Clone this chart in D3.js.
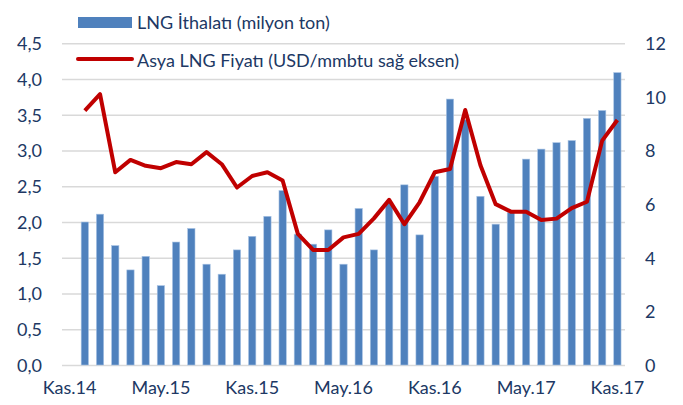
<!DOCTYPE html>
<html>
<head>
<meta charset="utf-8">
<script src="https://cdn.jsdelivr.net/npm/d3@7"></script>
<style>
  body { margin: 0; background: #fff; }
  svg text { font-family: Lato, 'Liberation Sans', sans-serif; fill: #203864; }
</style>
</head>
<body>
<svg id="chart" width="683" height="405"></svg>
<script>
// months Kas.14 .. Kas.17 (first month has no data in the source)
const months = [
  'Kas.14', 'Ara.14', 'Oca.15', 'Şub.15', 'Mar.15', 'Nis.15', 'May.15', 'Haz.15', 'Tem.15', 'Ağu.15', 'Eyl.15', 'Eki.15',
  'Kas.15', 'Ara.15', 'Oca.16', 'Şub.16', 'Mar.16', 'Nis.16', 'May.16', 'Haz.16', 'Tem.16', 'Ağu.16', 'Eyl.16', 'Eki.16',
  'Kas.16', 'Ara.16', 'Oca.17', 'Şub.17', 'Mar.17', 'Nis.17', 'May.17', 'Haz.17', 'Tem.17', 'Ağu.17', 'Eyl.17', 'Eki.17',
  'Kas.17',
];

// LNG imports, million tonnes (left axis)
const lngImports = [
  null, 2.00, 2.11, 1.67, 1.33, 1.52, 1.11, 1.72, 1.91, 1.41, 1.27, 1.61,
  1.80, 2.08, 2.44, 1.83, 1.69, 1.89, 1.41, 2.19, 1.61, 2.27, 2.52, 1.82,
  2.64, 3.72, 3.43, 2.36, 1.97, 2.13, 2.88, 3.02, 3.11, 3.14, 3.45, 3.56,
  4.09,
];

// Asia LNG price, USD/mmbtu (right axis)
const asiaPrice = [
  null, 9.49, 10.1, 7.19, 7.65, 7.43, 7.34, 7.57, 7.49, 7.94, 7.49, 6.62,
  7.05, 7.19, 6.88, 4.89, 4.29, 4.29, 4.76, 4.89, 5.47, 6.16, 5.25, 6.07,
  7.19, 7.31, 9.51, 7.45, 6.00, 5.72, 5.72, 5.41, 5.46, 5.85, 6.09, 8.37,
  9.14,
];

const xLabels = ['Kas.14', 'May.15', 'Kas.15', 'May.16', 'Kas.16', 'May.17', 'Kas.17'];
const leftTicks = [0, 0.5, 1, 1.5, 2, 2.5, 3, 3.5, 4, 4.5];
const rightTicks = [0, 2, 4, 6, 8, 10, 12];

const legendItems = ['LNG İthalatı (milyon ton)', 'Asya LNG Fiyatı (USD/mmbtu sağ eksen)'];

const plot = { left: 62, right: 625, top: 43.3, bottom: 365 };
const fontSize = 18;

const svg = d3.select('#chart');

const x = d3.scaleBand()
  .domain(months)
  .range([plot.left, plot.right])
  .paddingInner(0.52)
  .paddingOuter(0.26);

const yLeft = d3.scaleLinear()
  .domain([0, 4.5])
  .range([plot.bottom, plot.top]);

const yRight = d3.scaleLinear()
  .domain([0, 12])
  .range([plot.bottom, plot.top]);

const center = m => x(m) + x.bandwidth() / 2;

// gridlines + left labels
const leftAxis = d3.axisLeft(yLeft)
  .tickValues(leftTicks)
  .tickSize(-(plot.right - plot.left))
  .tickFormat(d => d3.format('.1f')(d).replace('.', ','));

const gLeft = svg.append('g')
  .attr('transform', `translate(${plot.left},0)`)
  .call(leftAxis);
gLeft.select('.domain').remove();
gLeft.selectAll('.tick line')
  .attr('stroke', '#d9d9d9')
  .attr('stroke-width', 1.5);
gLeft.selectAll('.tick text')
  .attr('x', -20)
  .attr('dy', '0.35em')
  .style('font-size', `${fontSize}px`)
  .style('font-family', null);

const gRight = svg.append('g')
  .attr('transform', `translate(${plot.right},0)`)
  .call(d3.axisRight(yRight).tickValues(rightTicks).tickSize(0));
gRight.select('.domain').remove();
gRight.selectAll('.tick text')
  .attr('x', 20)
  .attr('dy', '0.35em')
  .style('font-size', `${fontSize}px`)
  .style('font-family', null);

// x axis labels
const gX = svg.append('g')
  .attr('transform', `translate(0,${plot.bottom})`)
  .call(d3.axisBottom(x).tickValues(xLabels).tickSize(0));
gX.select('.domain').remove();
gX.selectAll('.tick text')
  .attr('y', 23)
  .attr('dy', '0.35em')
  .style('font-size', `${fontSize}px`)
  .style('font-family', null);

// bars
const barData = months.map((m, i) => ({ m, v: lngImports[i] })).filter(d => d.v !== null);
svg.append('g')
  .selectAll('rect')
  .data(barData)
  .enter().append('rect')
    .attr('x', d => x(d.m))
    .attr('y', d => yLeft(d.v))
    .attr('width', x.bandwidth())
    .attr('height', d => yLeft(0) - yLeft(d.v))
    .attr('fill', '#4f81bd')
    .attr('stroke', '#a9c4e4')
    .attr('stroke-width', 0.6);

// price line
const priceData = months.map((m, i) => ({ m, v: asiaPrice[i] }));
const line = d3.line()
  .defined(d => d.v !== null)
  .x(d => center(d.m))
  .y(d => yRight(d.v));

svg.append('path')
  .attr('d', line(priceData))
  .attr('fill', 'none')
  .attr('stroke', '#c00000')
  .attr('stroke-width', 4)
  .attr('stroke-linejoin', 'round');

// legend
const legend = svg.append('g');
legend.append('rect')
  .attr('x', 78).attr('y', 17)
  .attr('width', 54).attr('height', 11)
  .attr('fill', '#4f81bd');
legend.append('line')
  .attr('x1', 78).attr('x2', 132)
  .attr('y1', 59).attr('y2', 59)
  .attr('stroke', '#c00000')
  .attr('stroke-width', 4)
  .attr('stroke-linecap', 'round');
legend.selectAll('text.legend')
  .data(legendItems)
  .enter().append('text')
    .attr('class', 'legend')
    .attr('x', 137)
    .attr('y', (d, i) => (i === 0 ? 23 : 61))
    .attr('dy', '0.35em')
    .style('font-size', `${fontSize}px`)
    .text(d => d);
</script>
</body>
</html>
